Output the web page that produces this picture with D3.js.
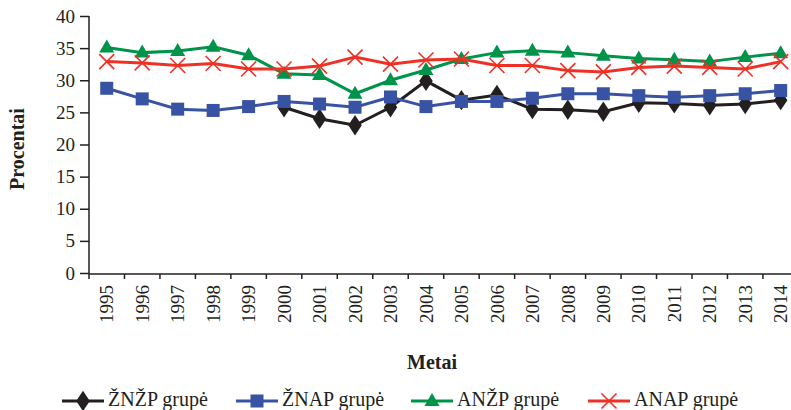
<html>
<head>
    <meta charset="utf-8">
    <script src="https://d3js.org/d3.v7.min.js"></script>
    <style>
        body { margin: 0; background: #fff; }
        text { font-family: "Liberation Serif", "Times New Roman", serif; fill: #231f20; }
    </style>
</head>

<body>
    <svg id="chart"></svg>

    <script>
        var Width = 791;
        var Height = 410;

        var years = ["1995", "1996", "1997", "1998", "1999", "2000", "2001", "2002", "2003", "2004",
                     "2005", "2006", "2007", "2008", "2009", "2010", "2011", "2012", "2013", "2014"];
        var yTicks = [0, 5, 10, 15, 20, 25, 30, 35, 40];

        var znzp = [null, null, null, null, null, 25.8, 24.0, 23.0, 25.8, 29.9,
                    26.9, 27.7, 25.5, 25.4, 25.1, 26.5, 26.4, 26.1, 26.3, 26.9];
        var znap = [28.75, 27.1, 25.5, 25.3, 25.9, 26.7, 26.3, 25.8, 27.4, 25.9,
                    26.7, 26.7, 27.2, 27.9, 27.9, 27.6, 27.35, 27.6, 27.9, 28.4];
        var anzp = [35.1, 34.3, 34.55, 35.2, 33.9, 31.0, 30.8, 27.9, 30.0, 31.6,
                    33.3, 34.3, 34.6, 34.3, 33.8, 33.4, 33.2, 32.9, 33.6, 34.2];
        var anap = [32.9, 32.7, 32.3, 32.6, 31.75, 31.75, 32.2, 33.6, 32.5, 33.15,
                    33.3, 32.3, 32.3, 31.5, 31.3, 32.0, 32.2, 32.0, 31.75, 32.9];

        var series = [
            { name: "ŽNŽP grupė", values: znzp, color: "#231f20", marker: "diamond" },
            { name: "ŽNAP grupė", values: znap, color: "#3953a4", marker: "square" },
            { name: "ANŽP grupė", values: anzp, color: "#00934a", marker: "triangle" },
            { name: "ANAP grupė", values: anap, color: "#ee3124", marker: "cross" }
        ];

        var plotLeft = 89, plotTop = 16, plotBottom = 274;
        var step = 35.47;

        var x = d3.scaleBand().domain(years).range([plotLeft, plotLeft + step * years.length]);
        var y = d3.scaleLinear().domain([0, 40]).range([plotBottom - 1, plotTop]);

        var svg = d3.select("#chart").attr("width", Width).attr("height", Height);

        // y axis
        var yAxis = svg.append("g")
            .attr("transform", "translate(" + plotLeft + ",0)")
            .call(d3.axisLeft(y).tickValues(yTicks).tickSize(9).tickPadding(5).tickSizeOuter(0));
        yAxis.select(".domain").attr("stroke", "#231f20").attr("stroke-width", 1.5)
            .attr("d", "M0," + plotTop + "V" + plotBottom);
        yAxis.selectAll(".tick line").attr("stroke", "#231f20").attr("stroke-width", 1.5);
        yAxis.selectAll(".tick text").attr("font-size", 19).attr("fill", "#231f20")
            .attr("font-family", "Liberation Serif");

        // x axis
        var xg = svg.append("g");
        xg.append("line")
            .attr("x1", plotLeft).attr("x2", Width + 10)
            .attr("y1", plotBottom).attr("y2", plotBottom)
            .attr("stroke", "#231f20").attr("stroke-width", 1.5);
        xg.selectAll(".xtick")
            .data(years.concat(["end"]))
            .enter()
            .append("line").classed("xtick", true)
                .attr("x1", function(d) { return d == "end" ? x.range()[1] : x(d); })
                .attr("x2", function(d) { return d == "end" ? x.range()[1] : x(d); })
                .attr("y1", plotBottom).attr("y2", plotBottom + 5)
                .attr("stroke", "#231f20").attr("stroke-width", 1.5);
        xg.selectAll(".xlabel")
            .data(years)
            .enter()
            .append("text").classed("xlabel", true)
                .attr("transform", function(d) {
                    return "translate(" + (x(d) + x.bandwidth() / 2) + "," + (plotBottom + 11) + ") rotate(-90)";
                })
                .attr("text-anchor", "end")
                .attr("dy", "0.35em")
                .attr("font-size", 19)
                .text(function(d) { return d; });

        // axis titles
        svg.append("text")
            .attr("transform", "translate(24,149) rotate(-90)")
            .attr("text-anchor", "middle")
            .attr("font-size", 20).attr("font-weight", "bold")
            .text("Procentai");
        svg.append("text")
            .attr("x", 432).attr("y", 369)
            .attr("text-anchor", "middle")
            .attr("font-size", 20).attr("font-weight", "bold")
            .text("Metai");

        function cx(i) { return x(years[i]) + x.bandwidth() / 2; }

        function drawMarker(g, type, px, py, color) {
            if (type == "diamond") {
                g.append("path")
                    .attr("d", d3.symbol().type(d3.symbolDiamond).size(120)())
                    .attr("transform", "translate(" + px + "," + py + ") scale(1.15,1)")
                    .attr("fill", color);
            } else if (type == "square") {
                g.append("rect")
                    .attr("x", px - 6.5).attr("y", py - 6.5)
                    .attr("width", 13).attr("height", 13)
                    .attr("fill", color);
            } else if (type == "triangle") {
                g.append("path")
                    .attr("d", "M" + px + "," + (py - 8) + "L" + (px + 7.5) + "," + (py + 5) +
                        "L" + (px - 7.5) + "," + (py + 5) + "Z")
                    .attr("fill", color);
            } else {
                g.append("path")
                    .attr("d", "M" + (px - 7.5) + "," + (py - 7.5) + "L" + (px + 7.5) + "," + (py + 7.5) +
                        "M" + (px - 7.5) + "," + (py + 7.5) + "L" + (px + 7.5) + "," + (py - 7.5))
                    .attr("stroke", color).attr("stroke-width", 1.6).attr("fill", "none");
            }
        }

        var line = d3.line()
            .defined(function(d) { return d != null; })
            .x(function(d, i) { return cx(i); })
            .y(function(d) { return y(d); });

        series.forEach(function(s) {
            var g = svg.append("g");
            g.append("path")
                .attr("d", line(s.values))
                .attr("fill", "none")
                .attr("stroke", s.color)
                .attr("stroke-width", 3);
            s.values.forEach(function(v, i) {
                if (v != null) drawMarker(g, s.marker, cx(i), y(v), s.color);
            });
        });

        // legend
        var legendX = [62, 236, 411, 588];
        var legendY = 401;
        series.forEach(function(s, i) {
            var g = svg.append("g");
            g.append("line")
                .attr("x1", legendX[i]).attr("x2", legendX[i] + 42)
                .attr("y1", legendY).attr("y2", legendY)
                .attr("stroke", s.color).attr("stroke-width", 3);
            drawMarker(g, s.marker, legendX[i] + 21, legendY, s.color);
            g.append("text")
                .attr("x", legendX[i] + 46).attr("y", legendY + 5)
                .attr("font-size", 20)
                .text(s.name);
        });
    </script>
</body>
</html>
